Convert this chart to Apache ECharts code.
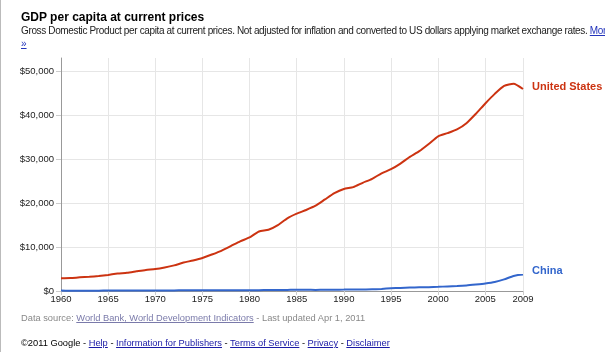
<!DOCTYPE html>
<html>
<head>
<meta charset="utf-8">
<script src="https://cdn.jsdelivr.net/npm/echarts@6/dist/echarts.min.js"></script>
<style>
  html, body { margin: 0; padding: 0; background: #fff; }
  body { width: 605px; height: 352px; position: relative; overflow: hidden; font-family: Arial, 'Liberation Sans', sans-serif; }
  #chart { position: absolute; left: 0; top: 0; width: 605px; height: 352px; }
  .txt { position: absolute; white-space: nowrap; }
  a { text-decoration: underline; }
  #title { left: 21px; top: 10px; font-size: 12px; font-weight: bold; color: #000; }
  #sub { left: 21px; top: 25px; font-size: 10px; letter-spacing: -0.36px; color: #222; }
  #more2 { left: 21px; top: 38px; font-size: 10px; color: #2233bb; }
  #source { left: 21px; top: 313px; font-size: 9.3px; color: #888; }
  #source a { color: #7a7aaa; }
  #foot { left: 21px; top: 338px; font-size: 9.3px; color: #000; }
  #foot a { color: #1a1aa6; }
  #edge { position: absolute; left: 0; top: 0; width: 1px; height: 352px; background: #bbb; }
</style>
</head>
<body>
<div id="chart"></div>
<div id="edge"></div>
<div class="txt" id="title">GDP per capita at current prices</div>
<div class="txt" id="sub">Gross Domestic Product per capita at current prices. Not adjusted for inflation and converted to US dollars applying market exchange rates. <a style="color:#2233bb">More</a></div>
<div class="txt" id="more2"><a>»</a></div>
<div class="txt" id="source">Data source: <a>World Bank, World Development Indicators</a> - Last updated Apr 1, 2011</div>
<div class="txt" id="foot">©2011 Google - <a>Help</a> - <a>Information for Publishers</a> - <a>Terms of Service</a> - <a>Privacy</a> - <a>Disclaimer</a></div>
<script>
// years 1960..2009
const years = ['1960','1961','1962','1963','1964','1965','1966','1967','1968','1969',
  '1970','1971','1972','1973','1974','1975','1976','1977','1978','1979',
  '1980','1981','1982','1983','1984','1985','1986','1987','1988','1989',
  '1990','1991','1992','1993','1994','1995','1996','1997','1998','1999',
  '2000','2001','2002','2003','2004','2005','2006','2007','2008','2009']

const unitedStates = [2881, 2934, 3107, 3232, 3423, 3664, 3972, 4143, 4473, 4795,
  4998, 5360, 5836, 6462, 6948, 7517, 8303, 9143, 10197, 11306,
  12180, 13526, 13931, 15000, 16540, 17588, 18427, 19394, 20824, 22237,
  23200, 23626, 24611, 25515, 26773, 27702, 28993, 30498, 31806, 33444,
  35184, 35906, 36749, 38166, 40312, 42662, 44841, 46651, 47154, 45935]

const china = [92, 75, 70, 74, 85, 98, 104, 96, 91, 100,
  112, 118, 131, 157, 160, 178, 165, 185, 155, 183,
  193, 197, 203, 225, 250, 294, 281, 251, 283, 310,
  314, 330, 363, 377, 473, 609, 709, 781, 828, 865,
  949, 1042, 1135, 1274, 1490, 1731, 2069, 2651, 3414, 3744]

const yTicks = [0, 10000, 20000, 30000, 40000, 50000]

const showYear = (i, v) => (Number(v) - 1960) % 5 === 0 || v === '2009'

const chart = echarts.init(document.getElementById('chart'))
chart.setOption({
  animation: false,
  grid: { left: 61, right: 82, top: 58, bottom: 61 },
  xAxis: {
    type: 'category',
    data: years,
    boundaryGap: false,
    axisLine: { lineStyle: { color: '#999' } },
    axisTick: { show: true, interval: showYear, length: 4, lineStyle: { color: '#ccc' } },
    axisLabel: { interval: showYear, color: '#222', fontSize: 9.5, fontFamily: 'Arial', margin: 3 },
    splitLine: { show: true, interval: showYear, lineStyle: { color: '#e6e6e6' } }
  },
  yAxis: {
    type: 'value',
    min: 0,
    max: 53000,
    interval: 10000,
    axisLine: { show: true, lineStyle: { color: '#999' } },
    axisTick: { show: true, length: 5, customValues: yTicks, lineStyle: { color: '#ccc' } },
    axisLabel: {
      customValues: yTicks,
      color: '#222', fontSize: 9.5, fontFamily: 'Arial', margin: 7,
      formatter: v => '$' + v.toLocaleString('en-US')
    },
    splitLine: { show: true, lineStyle: { color: '#e6e6e6' } }
  },
  series: [
    {
      name: 'United States',
      type: 'line',
      data: unitedStates,
      smooth: 0.2,
      symbol: 'none',
      lineStyle: { color: '#cc3311', width: 2 },
      endLabel: {
        show: true, formatter: '{a}', distance: 9, offset: [0, -2],
        color: '#cc3311', fontSize: 11, fontWeight: 'bold', fontFamily: 'Arial'
      }
    },
    {
      name: 'China',
      type: 'line',
      data: china,
      smooth: 0.2,
      symbol: 'none',
      lineStyle: { color: '#3366cc', width: 2 },
      endLabel: {
        show: true, formatter: '{a}', distance: 9, offset: [0, -4],
        color: '#3366cc', fontSize: 11, fontWeight: 'bold', fontFamily: 'Arial'
      }
    }
  ]
})
</script>
</body>
</html>
